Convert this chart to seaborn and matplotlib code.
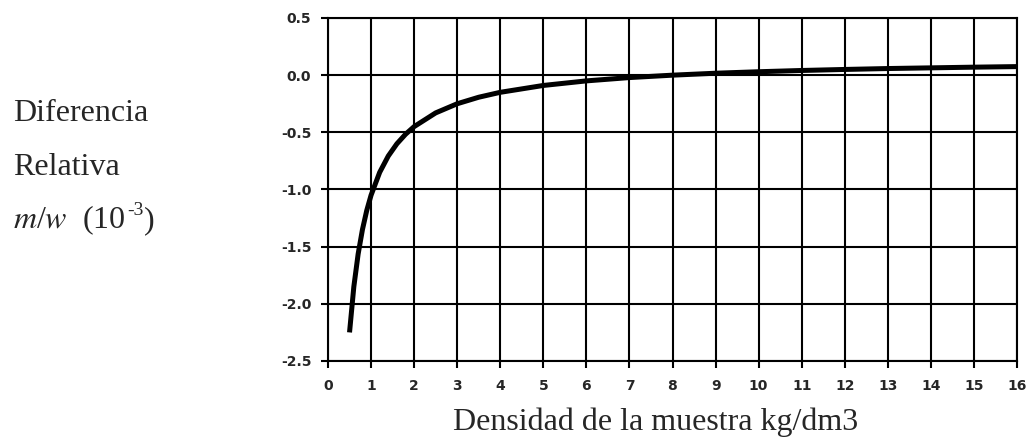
import matplotlib
matplotlib.use("Agg")
import matplotlib.pyplot as plt
import seaborn as sns
import pandas as pd

# density of the sample (kg/dm3) and relative difference m/w (10^-3)
density = [0.5, 0.6, 0.7, 0.8, 0.9, 1.0, 1.2, 1.4, 1.6, 1.8, 2.0, 2.5, 3.0, 3.5,
           4.0, 5.0, 6.0, 7.0, 8.0, 9.0, 10.0, 11.0, 12.0, 13.0, 14.0, 15.0, 16.0]
rel_diff = [-2.25, -1.85, -1.564, -1.35, -1.183, -1.05, -0.85, -0.707, -0.60, -0.517,
            -0.45, -0.33, -0.25, -0.193, -0.15, -0.09, -0.05, -0.021, 0.0, 0.017,
            0.03, 0.041, 0.05, 0.058, 0.064, 0.07, 0.075]
x_ticks = list(range(0, 17))
y_ticks = [-2.5, -2.0, -1.5, -1.0, -0.5, 0.0, 0.5]

df = pd.DataFrame({"density": density, "rel": rel_diff})

sns.set_style("white")
W, H = 1034, 441
fig = plt.figure(figsize=(W / 100, H / 100), dpi=100)
ax = fig.add_axes([328 / W, 1 - 361 / H, (1017 - 328) / W, (361 - 18) / H])

sns.lineplot(data=df, x="density", y="rel", ax=ax, color="black", linewidth=3.6,
             solid_capstyle="butt")

ax.set_xlim(0, 16)
ax.set_ylim(-2.5, 0.5)
ax.set_xticks(x_ticks)
ax.set_yticks(y_ticks)
ax.set_xticklabels([str(t) for t in x_ticks])
ax.set_yticklabels([f"{t:.1f}" for t in y_ticks])
ax.grid(True, color="black", linewidth=1.5)
ax.set_axisbelow(True)
for s in ax.spines.values():
    s.set_color("black")
    s.set_linewidth(1.5)
ax.tick_params(axis="both", direction="out", length=5, width=1.5, color="black",
               labelsize=10, bottom=True, left=True)
ax.tick_params(axis="y", pad=7)
ax.tick_params(axis="x", pad=8)
for lab in ax.get_xticklabels() + ax.get_yticklabels():
    lab.set_fontfamily("DejaVu Sans")
    lab.set_fontweight("bold")

ax.set_xlabel("")
ax.set_ylabel("")

serif = "Liberation Serif"
fs = 23
fig.text(656 / W, 1 - 430 / H, "Densidad de la muestra kg/dm3", family=serif,
         fontsize=fs, ha="center", va="baseline")
fig.text(13 / W, 1 - 121 / H, "Diferencia", family=serif, fontsize=fs,
         ha="left", va="baseline")
fig.text(13 / W, 1 - 175 / H, "Relativa", family=serif, fontsize=fs,
         ha="left", va="baseline")

# third line built from pieces so the exponent keeps a plain hyphen
r = fig.canvas.get_renderer()
t1 = fig.text(13 / W, 1 - 228 / H, r"$m$/$w$  (10", family=serif, fontsize=fs,
              ha="left", va="baseline", math_fontfamily="stix")
x1 = t1.get_window_extent(r).x1
t2 = fig.text((x1 + 1) / W, 1 - 215 / H, "-3", family=serif, fontsize=14,
              ha="left", va="baseline")
x2 = t2.get_window_extent(r).x1
fig.text((x2 + 1) / W, 1 - 228 / H, ")", family=serif, fontsize=fs,
         ha="left", va="baseline")

fig.savefig("out.png", dpi=100)
